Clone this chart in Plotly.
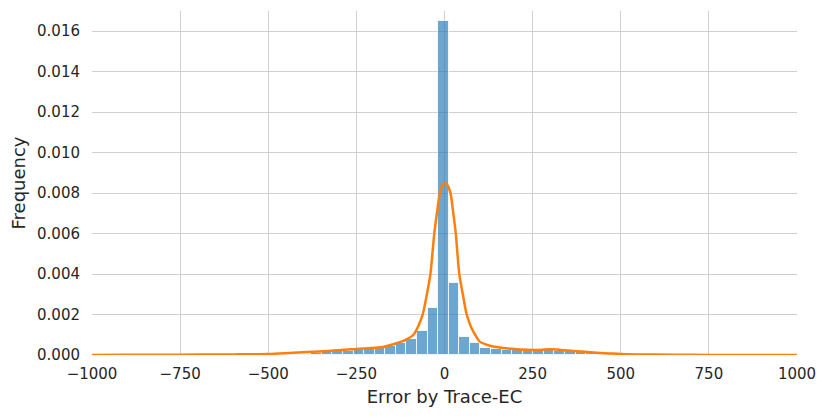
import plotly.graph_objects as go

# --------------------------
# DATA
# --------------------------
bin_width = 30
bin_left = [-468, -438, -408, -378, -348, -318, -288, -258, -228, -198, -168, -138,
            -108, -78, -48, -18, 12, 42, 72, 102, 132, 162, 192, 222, 252, 282,
            312, 342, 372, 402, 432, 462, 492]
bin_height = [0.00002, 0.00004, 0.00007, 0.0001, 0.00014, 0.00018, 0.00022, 0.00026,
              0.0003, 0.00037, 0.00045, 0.0006, 0.0008, 0.00118, 0.0023, 0.0165,
              0.00354, 0.0009, 0.00058, 0.00037, 0.00028, 0.00025, 0.00023, 0.00022,
              0.00023, 0.00024, 0.00022, 0.0002, 0.00015, 0.0001, 0.00007, 0.00004,
              0.00002]

kde_x = [-1000, -900, -800, -700, -600, -500, -438, -344, -249, -174, -136, -112,
         -88, -75, -62, -50, -40, -29, -20, -13, -6, 1, 8, 17, 25, 32, 42, 52, 63,
         75, 87, 100, 129, 176, 251, 299, 365, 432, 466, 500, 600, 700, 800, 900, 1000]
kde_y = [0.0, 0.00001, 0.00001, 0.00002, 0.00003, 0.00005, 0.0001, 0.00018, 0.0003,
         0.0004, 0.00058, 0.00074, 0.001, 0.0014, 0.002, 0.003, 0.004, 0.006, 0.0072,
         0.008, 0.0084, 0.0085, 0.0084, 0.008, 0.007, 0.006, 0.004, 0.003, 0.002,
         0.0014, 0.001, 0.00066, 0.00046, 0.00033, 0.00025, 0.00028, 0.0002, 0.00011,
         0.00008, 0.00005, 0.00002, 0.00001, 0.0, 0.0, 0.0]

x_ticks = [-1000, -750, -500, -250, 0, 250, 500, 750, 1000]
x_tick_text = ["\u22121000", "\u2212750", "\u2212500", "\u2212250", "0", "250", "500", "750", "1000"]
y_ticks = [0.0, 0.002, 0.004, 0.006, 0.008, 0.010, 0.012, 0.014, 0.016]

# --------------------------
# FIGURE
# --------------------------
fig = go.Figure()

fig.add_trace(go.Bar(
    x=bin_left,
    y=bin_height,
    width=bin_width,
    offset=0,
    marker=dict(color="rgba(31,119,180,0.65)",
                line=dict(color="rgba(255,255,255,0.8)", width=1)),
))

fig.add_trace(go.Scatter(
    x=kde_x,
    y=kde_y,
    mode="lines",
    line=dict(color="#ff7f0e", width=2.5, shape="spline", smoothing=0.8),
))

fig.update_layout(
    width=830,
    height=418,
    margin=dict(l=92, r=33, t=11, b=63),
    paper_bgcolor="white",
    plot_bgcolor="white",
    font=dict(family="DejaVu Sans", size=15, color="#262626"),
    showlegend=False,
    bargap=0,
)

fig.update_xaxes(
    range=[-1000, 1000],
    tickvals=x_ticks,
    ticktext=x_tick_text,
    showgrid=True, gridcolor="#d0d0d0", gridwidth=1,
    zeroline=False, showline=False,
    ticks="outside", ticklen=5, tickcolor="rgba(0,0,0,0)",
    title=dict(text="Error by Trace-EC", font=dict(size=18), standoff=8),
)
fig.update_yaxes(
    range=[0, 0.017],
    tickvals=y_ticks,
    tickformat=".3f",
    showgrid=True, gridcolor="#d0d0d0", gridwidth=1,
    zeroline=False, showline=False,
    ticks="outside", ticklen=8, tickcolor="rgba(0,0,0,0)",
    title=dict(text="Frequency", font=dict(size=18), standoff=6),
)

# page margin off so the figure sits at the window's corner
fig.write_html("out.html", config={"displayModeBar": False},
               post_script="document.body.style.margin='0';")
